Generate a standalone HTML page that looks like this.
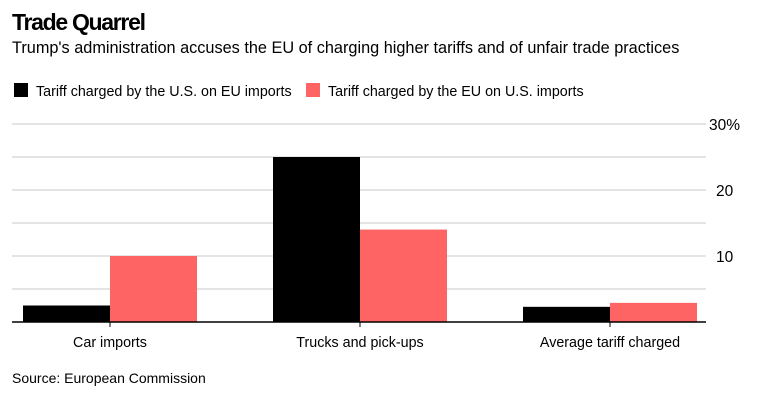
<!DOCTYPE html>
<html><head><meta charset="utf-8"><style>
body{margin:0;background:#fff;width:770px;height:414px;overflow:hidden;font-family:"Liberation Sans",Arial,sans-serif;}
</style></head><body>
<svg width="770" height="414" xmlns="http://www.w3.org/2000/svg" font-family="Liberation Sans, Arial, sans-serif">
<text x="12" y="30" font-size="23" font-weight="bold" letter-spacing="-1.3" fill="#000">Trade Quarrel</text>
<text x="12" y="53" font-size="16.3" fill="#000">Trump's administration accuses the EU of charging higher tariffs and of unfair trade practices</text>
<g>
<rect x="14" y="83" width="14" height="14" fill="#000"/>
<text x="36" y="96" font-size="14.3">Tariff charged by the U.S. on EU imports</text>
<rect x="306" y="83" width="14" height="14" fill="#ff6464"/>
<text x="328" y="96" font-size="14.3">Tariff charged by the EU on U.S. imports</text>
</g>
<g id="grid"></g><g id="bars"></g><g id="axis"></g>
<text x="12" y="383" font-size="14">Source: European Commission</text>
</svg>
<script>
const categories=["Car imports","Trucks and pick-ups","Average tariff charged"];
const usValues=[2.5,25,2.3];
const euValues=[10,14,2.9];
const gridTicks=[0,5,10,15,20,25,30];
const tickLabels=["","","10","","20","","30%"];
const NS="http://www.w3.org/2000/svg";
const y0=322,pxPer=6.6,left=12,right=706;
const y=v=>y0-v*pxPer;
const centers=[110,360,610];
const cx=i=>left+ (centers[2]-centers[0])/2*i + (centers[0]-left);
const bw=87;
function mk(tag,attrs,parent){const e=document.createElementNS(NS,tag);for(const k in attrs)e.setAttribute(k,attrs[k]);parent.appendChild(e);return e;}
const grid=document.getElementById('grid'),bars=document.getElementById('bars'),axis=document.getElementById('axis');
gridTicks.forEach((t,i)=>{
 if(t>0){const l=mk('line',{x1:left,x2:right,y1:y(t),y2:y(t),stroke:'#dcdcdc','stroke-width':1.5},grid);
 
 }
 if(tickLabels[i]){const tx=mk('text',{x:tickLabels[i].includes('%')?709:716,y:y(t)+6,'font-size':15.5},grid);tx.textContent=tickLabels[i];
 
 }
});
categories.forEach((c,i)=>{
 const x=cx(i);
 const b1=mk('rect',{x:x-bw,y:y(usValues[i]),width:bw,height:usValues[i]*pxPer,fill:'#000'},bars);
 
 
 const b2=mk('rect',{x:x,y:y(euValues[i]),width:bw,height:euValues[i]*pxPer,fill:'#ff6464'},bars);
 
 
 const tk=mk('line',{x1:x,x2:x,y1:y0,y2:y0+5,stroke:'#000','stroke-width':1},axis);
 
 
 const lb=mk('text',{x:x,y:y0+25,'font-size':14.3,'text-anchor':'middle'},axis);lb.textContent=c;
 
 
});
const base=mk('line',{x1:left,x2:right,y1:y0,y2:y0,stroke:'#000','stroke-width':1.5},axis);


</script>
</body></html>
